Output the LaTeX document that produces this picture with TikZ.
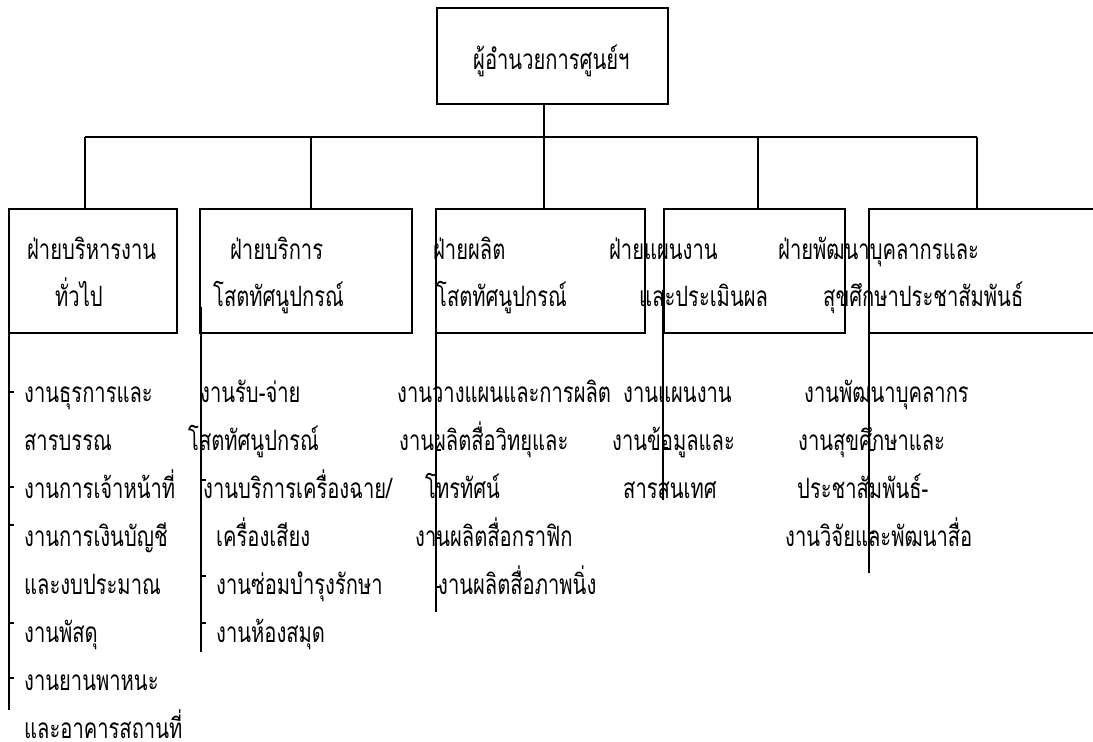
\documentclass[tikz,border=0pt]{standalone}
\usepackage{fontspec}
\newfontfamily\thaifont[Script=Thai,FakeStretch=0.72]{Loma}
\usetikzlibrary{positioning}

\begin{document}
\begin{tikzpicture}[x=1pt,y=-1pt,
    box/.style={draw,line width=1.2pt,inner sep=0pt},
    txt/.style={anchor=base west,inner sep=0pt,font={\thaifont\fontsize{28}{30}\selectfont}},
    link/.style={line width=1.2pt},
    stem/.style={line width=1.8pt},
    tick/.style={line width=1.4pt}]
    \clip (0,0) rectangle (1093,742);

    % director
    \node[box,minimum width=231pt,minimum height=96pt] (dir) at (552.5,56) {};
    \node[txt] (dirtxt) at (473,69) {ผู้อำนวยการศูนย์ฯ};

    % divisions
    \node[box,minimum width=168pt,minimum height=124pt] (div1) at (93,271) {};
    \node[box,minimum width=212pt,minimum height=124pt] (div2) at (306,271) {};
    \node[box,minimum width=209pt,minimum height=124pt] (div3) at (540.5,271) {};
    \node[box,minimum width=181pt,minimum height=124pt] (div4) at (754.5,271) {};
    \node[box,minimum width=241pt,minimum height=124pt] (div5) at (989.5,271) {};

    \coordinate (bus1) at (85,137);
    \coordinate (bus2) at (311,137);
    \coordinate (bus3) at (544,137);
    \coordinate (bus4) at (758,137);
    \coordinate (bus5) at (977,137);
    \draw[link] (bus3 |- dir.south) -- (bus3 |- div3.north);
    \draw[link] (bus1) -- (bus5);
    \foreach \i in {1,2,4,5}
        \draw[link] (bus\i) -- (bus\i |- div\i.north);

    \node[txt] (d1a) at (27,259) {ฝ่ายบริหารงาน};
    \node[txt] (d1b) at (55,306) {ทั่วไป};
    \node[txt] (d2a) at (230,259) {ฝ่ายบริการ};
    \node[txt] (d2b) at (213,306) {โสตทัศนูปกรณ์};
    \node[txt] (d3a) at (433,259) {ฝ่ายผลิต};
    \node[txt] (d3b) at (436,306) {โสตทัศนูปกรณ์};
    \node[txt] (d4a) at (609,259) {ฝ่ายแผนงาน};
    \node[txt] (d4b) at (639,306) {และประเมินผล};
    \node[txt] (d5a) at (778,259) {ฝ่ายพัฒนาบุคลากรและ};
    \node[txt] (d5b) at (823,306) {สุขศึกษาประชาสัมพันธ์};

    % sections
    \foreach \x/\ya/\yb in {9/288/710, 201/307/652, 436/290/612, 663/290/500, 869/325/573}
        \draw[stem] (\x,\ya) -- (\x,\yb);
    \foreach \x/\y in {9/392, 9/487, 9/525, 9/623, 9/678, 201/480, 201/576, 201/623,
                       436/450, 436/538, 436/587, 663/448, 869/450, 869/533}
        \draw[tick] (\x,\y) -- ++(5,0);

    \node[txt] (s1a) at (24,402) {งานธุรการและ};
    \node[txt] (s1b) at (24,450) {สารบรรณ};
    \node[txt] (s1c) at (24,498) {งานการเจ้าหน้าที่};
    \node[txt] (s1d) at (24,546) {งานการเงินบัญชี};
    \node[txt] (s1e) at (24,594) {และงบประมาณ};
    \node[txt] (s1f) at (24,642) {งานพัสดุ};
    \node[txt] (s1g) at (24,690) {งานยานพาหนะ};
    \node[txt] (s1h) at (24,738) {และอาคารสถานที่};

    \node[txt] (s2a) at (200,402) {งานรับ-จ่าย};
    \node[txt] (s2b) at (188,450) {โสตทัศนูปกรณ์};
    \node[txt] (s2c) at (203,498) {งานบริการเครื่องฉาย/};
    \node[txt] (s2d) at (216,546) {เครื่องเสียง};
    \node[txt] (s2e) at (216,594) {งานซ่อมบำรุงรักษา};
    \node[txt] (s2f) at (216,642) {งานห้องสมุด};

    \node[txt] (s3a) at (397,402) {งานวางแผนและการผลิต};
    \node[txt] (s3b) at (399,450) {งานผลิตสื่อวิทยุและ};
    \node[txt] (s3c) at (425,498) {โทรทัศน์};
    \node[txt] (s3d) at (415,546) {งานผลิตสื่อกราฟิก};
    \node[txt] (s3e) at (438,594) {งานผลิตสื่อภาพนิ่ง};

    \node[txt] (s4a) at (623,402) {งานแผนงาน};
    \node[txt] (s4b) at (612,450) {งานข้อมูลและ};
    \node[txt] (s4c) at (623,498) {สารสนเทศ};

    \node[txt] (s5a) at (804,402) {งานพัฒนาบุคลากร};
    \node[txt] (s5b) at (798,450) {งานสุขศึกษาและ};
    \node[txt] (s5c) at (797,498) {ประชาสัมพันธ์-};
    \node[txt] (s5d) at (785,546) {งานวิจัยและพัฒนาสื่อ};
\end{tikzpicture}
\end{document}
